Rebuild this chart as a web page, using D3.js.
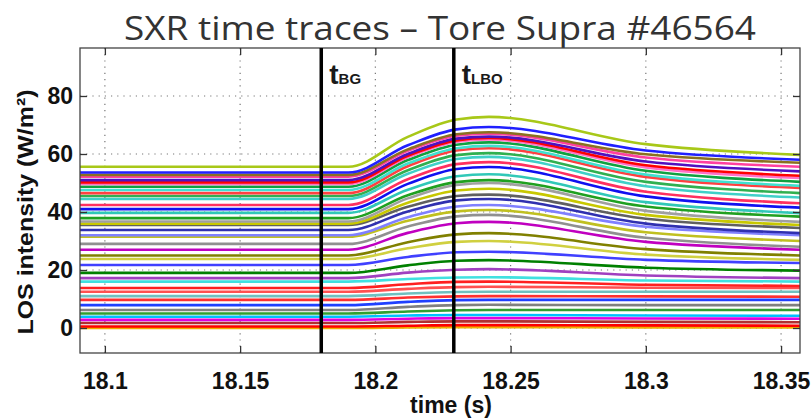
<!DOCTYPE html>
<html>
<head>
<meta charset="utf-8">
<script src="https://cdn.jsdelivr.net/npm/d3@7"></script>
<style>
  body { margin: 0; background: #fff; }
  svg text { font-family: "Liberation Sans", Arial, sans-serif; }
</style>
</head>
<body>
<div id="chart"></div>
<script>
const knotTimes = [18.0908, 18.190, 18.212, 18.230, 18.242, 18.30, 18.357];

// levels (W/m2), one entry per line of sight, top to bottom
const levelBefore = [55.6, 53.6, 52.8, 52.2, 51, 50.2, 49.7, 48.7, 47.6, 46.5, 45.5, 44.5, 42.4, 41, 39.7, 37.9, 36.7, 36, 35.5, 33.8, 32, 31.5, 29, 27, 25, 23.8, 21.7, 19, 17.2, 16, 13.8, 12.5, 11, 9.7, 7.9, 6.2, 5, 3.9, 2.8, 1.7, 0.5, 0];
const levelMidRise = [65.9, 63, 61.6, 61.1, 60, 59.4, 58.9, 57.9, 56.7, 55.8, 54.4, 53.2, 51.3, 49.7, 47.7, 45.8, 44.7, 43.2, 41.8, 40.2, 38.2, 37, 35, 32.8, 29.6, 27.5, 24.5, 21.6, 19.1, 16.9, 15.1, 13.5, 11.9, 10.5, 9, 7.3, 5.7, 4.3, 3.2, 2.1, 0.8, 0.2];
const levelAtLBO = [71.9, 68.5, 66.8, 66.3, 65.3, 64.7, 64.2, 63.2, 62, 61.2, 59.6, 58.3, 56.5, 54.8, 52.3, 50.3, 49.3, 47.4, 45.5, 44, 41.9, 40.2, 38.5, 36.1, 32.3, 29.7, 26.1, 23.2, 20.1, 17.4, 15.9, 14.1, 12.4, 10.9, 9.6, 7.9, 6.1, 4.5, 3.4, 2.3, 1, 0.3];
const levelPeak = [72.8, 69.3, 67.5, 67, 66, 65.5, 65, 64, 62.8, 62, 60.3, 59, 57.2, 55.5, 53, 51, 50, 48, 46, 44.5, 42.4, 40.7, 39, 36.6, 32.7, 30, 26.3, 23.4, 20.3, 17.5, 16, 14.2, 12.5, 11, 9.7, 8, 6.2, 4.5, 3.4, 2.3, 1, 0.3];
const levelMidDecay = [63.4, 61.2, 59.9, 58.8, 57.4, 56.1, 55.4, 54.2, 52.9, 52.1, 50.4, 48.9, 47, 45.4, 43.4, 41.9, 40.4, 39, 37.7, 36, 34.9, 33, 31.1, 29.7, 27.2, 25.3, 23.5, 20.8, 18.1, 16.4, 14.9, 13.9, 12.5, 10.9, 9.7, 7.9, 6.2, 4.3, 3.3, 2.1, 0.9, 0.2];
const levelEnd = [59.7, 58, 57, 55.6, 54, 52.5, 51.7, 50.4, 49, 48.3, 46.5, 45, 43, 41.5, 39.6, 38.4, 36.6, 35.5, 34.5, 32.7, 32, 30, 28, 27, 25, 23.5, 22.4, 19.8, 17.2, 16, 14.5, 13.8, 12.5, 10.8, 9.7, 7.9, 6.2, 4.2, 3.2, 2, 0.8, 0.2];

const traceColors = ["#a8c818", "#2020ff", "#8a7020", "#ff40a0", "#5010c0", "#ff0000", "#ff70c8", "#10a040",
  "#40e0d0", "#ff4040", "#30b050", "#40d0c8", "#ff3060", "#1010f0", "#30c8b8", "#20a020",
  "#a0a0a0", "#c8c800", "#606060", "#3030b0", "#8080ff", "#c0c020", "#909090", "#c000c0",
  "#808000", "#d0d040", "#4040ff", "#008000", "#a040c0", "#40e0e0", "#ff2020", "#ff5050",
  "#70c0c0", "#ff3030", "#2040ff", "#808080", "#30a030", "#00c0ff", "#e000e0", "#b03030",
  "#ff0000", "#f0b000"];

const xTicks = [18.1, 18.15, 18.2, 18.25, 18.3, 18.35];
const yTicks = [0, 20, 40, 60, 80];
const markerTimes = [18.18, 18.229];
const markerNames = ["BG", "LBO"];

const width = 812, height = 418;
const margin = {top: 48, right: 12, bottom: 65, left: 80};

const svg = d3.select("#chart").append("svg")
  .attr("width", width)
  .attr("height", height);

const x = d3.scaleLinear().domain([18.0908, 18.357]).range([margin.left, width - margin.right]);
const y = d3.scaleLinear().domain([-8.62, 96.55]).range([height - margin.bottom, margin.top]);

// build the traces from the level columns
const columns = [levelBefore, levelBefore, levelMidRise, levelAtLBO, levelPeak, levelMidDecay, levelEnd];
const traces = levelBefore.map((_, i) => ({
  color: traceColors[i % traceColors.length],
  points: knotTimes.map((t, k) => [t, columns[k][i]])
}));

svg.append("defs").append("clipPath").attr("id", "plotclip")
  .append("rect")
  .attr("x", margin.left).attr("y", margin.top)
  .attr("width", width - margin.left - margin.right)
  .attr("height", height - margin.top - margin.bottom);

// title
svg.append("text")
  .attr("x", 440).attr("y", 40)
  .attr("text-anchor", "middle")
  .attr("textLength", 632)
  .attr("lengthAdjust", "spacingAndGlyphs")
  .style("font-family", "'Open Sans', sans-serif")
  .style("font-size", "33px")
  .style("fill", "#333")
  .text("SXR time traces \u2013 Tore Supra #46564");

// dotted grid
const grid = svg.append("g").attr("stroke", "#777").attr("stroke-width", 1.2).attr("stroke-dasharray", "1.2,5");
grid.selectAll(".gx").data(xTicks).enter().append("line")
  .attr("x1", d => x(d)).attr("x2", d => x(d))
  .attr("y1", margin.top).attr("y2", height - margin.bottom);
grid.selectAll(".gy").data(yTicks).enter().append("line")
  .attr("x1", margin.left).attr("x2", width - margin.right)
  .attr("y1", d => y(d)).attr("y2", d => y(d));

// traces
const line = d3.line()
  .x(d => x(d[0]))
  .y(d => y(d[1]))
  .curve(d3.curveMonotoneX);

svg.append("g").attr("clip-path", "url(#plotclip)")
  .selectAll("path")
  .data(traces.slice().reverse())
  .enter().append("path")
  .attr("d", d => line(d.points))
  .attr("fill", "none")
  .attr("stroke", d => d.color)
  .attr("stroke-width", 2.6);

// frame
svg.append("rect")
  .attr("x", margin.left).attr("y", margin.top)
  .attr("width", width - margin.left - margin.right)
  .attr("height", height - margin.top - margin.bottom)
  .attr("fill", "none").attr("stroke", "#444").attr("stroke-width", 1.3);

// axes with inward ticks
const xAxisB = d3.axisBottom(x).tickValues(xTicks).tickSize(-7).tickPadding(20).tickFormat(d3.format("~g"));
const xAxisT = d3.axisTop(x).tickValues(xTicks).tickSize(-7).tickFormat("");
const yAxisL = d3.axisLeft(y).tickValues(yTicks).tickSize(-7).tickPadding(7);
const yAxisR = d3.axisRight(y).tickValues(yTicks).tickSize(-7).tickFormat("");

function styleAxis(g) {
  g.select(".domain").remove();
  g.selectAll(".tick line").attr("stroke", "#333").attr("stroke-width", 1.3);
  g.selectAll(".tick text")
    .style("font-family", "'Liberation Sans', Arial, sans-serif")
    .style("font-weight", "bold")
    .style("font-size", "23px")
    .attr("fill", "#111");
}

svg.append("g").attr("transform", `translate(0,${height - margin.bottom})`).call(xAxisB).call(styleAxis);
svg.append("g").attr("transform", `translate(0,${margin.top})`).call(xAxisT).call(styleAxis);
svg.append("g").attr("transform", `translate(${margin.left},0)`).call(yAxisL).call(styleAxis);
svg.append("g").attr("transform", `translate(${width - margin.right},0)`).call(yAxisR).call(styleAxis);

// event markers
svg.selectAll(".marker").data(markerTimes).enter().append("line")
  .attr("x1", d => x(d)).attr("x2", d => x(d))
  .attr("y1", margin.top).attr("y2", height - margin.bottom)
  .attr("stroke", "#000").attr("stroke-width", 3.5);

const mlabel = svg.selectAll(".mlabel").data(markerTimes).enter().append("text")
  .attr("x", d => x(d) + 8).attr("y", 84)
  .style("font-weight", "bold")
  .attr("fill", "#1a1a1a");
mlabel.append("tspan").style("font-size", "28px").text("t");
mlabel.append("tspan").style("font-size", "15px").text((d, i) => markerNames[i]);

// axis labels
svg.append("text")
  .attr("x", 451).attr("y", 413)
  .attr("text-anchor", "middle")
  .style("font-weight", "bold").style("font-size", "23px")
  .attr("fill", "#111")
  .text("time (s)");

svg.append("text")
  .attr("transform", "translate(33,212) rotate(-90)")
  .attr("text-anchor", "middle")
  .attr("textLength", 245)
  .attr("lengthAdjust", "spacingAndGlyphs")
  .style("font-weight", "bold").style("font-size", "22px")
  .attr("fill", "#111")
  .text("LOS intensity (W/m\u00B2)");
</script>
</body>
</html>
